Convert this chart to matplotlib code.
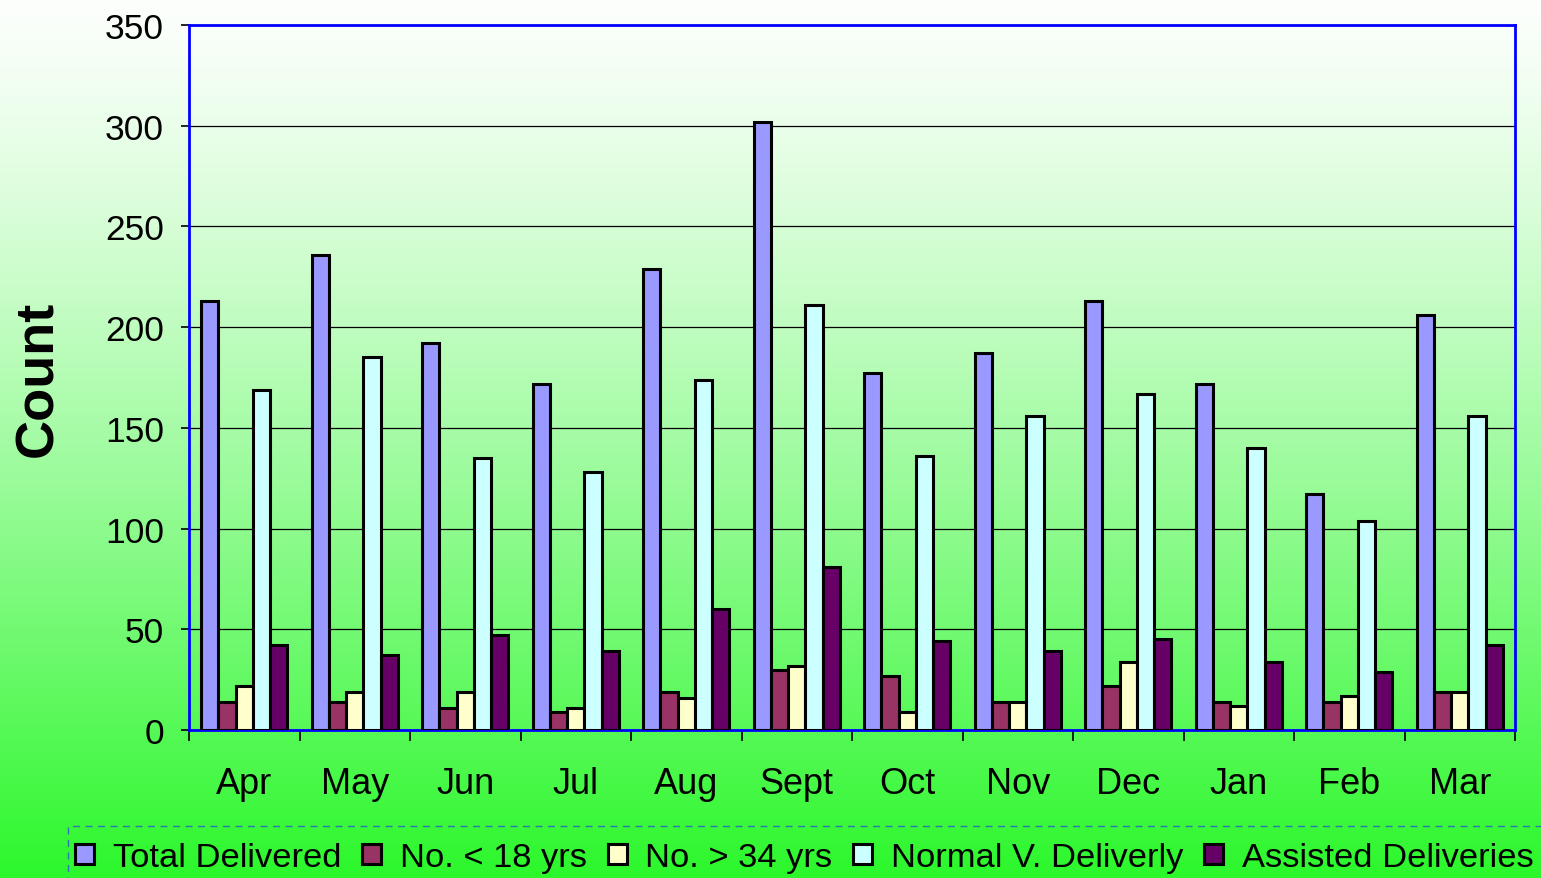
import numpy as np
from matplotlib import pyplot as plt
from matplotlib.patches import Rectangle

months = ["Apr", "May", "Jun", "Jul", "Aug", "Sept", "Oct", "Nov", "Dec", "Jan", "Feb", "Mar"]
total_delivered = [213, 236, 192, 172, 229, 302, 177, 187, 213, 172, 117, 206]
under_18 = [14, 14, 11, 9, 19, 30, 27, 14, 22, 14, 14, 19]
over_34 = [22, 19, 19, 11, 16, 32, 9, 14, 34, 12, 17, 19]
normal_delivery = [169, 185, 135, 128, 174, 211, 136, 156, 167, 140, 104, 156]
assisted = [42, 37, 47, 39, 60, 81, 44, 39, 45, 34, 29, 42]

series_names = ["Total Delivered", "No. < 18 yrs", "No. > 34 yrs", "Normal V. Deliverly", "Assisted Deliveries"]
series_colors = ["#9999ff", "#993366", "#ffffcc", "#ccffff", "#660066"]


def main():
    plt.rcParams['font.family'] = ['Liberation Sans', 'DejaVu Sans']

    fig = plt.figure(figsize=(15.41, 8.79), dpi=100)

    # background gradient, white at the top to green at the bottom
    bg = fig.add_axes([0, 0, 1, 1], zorder=-5)
    t = np.linspace(0, 1, 400) ** 1.25
    top = np.array([0.99, 1.0, 0.99])
    bottom = np.array([0.17, 0.97, 0.17])
    grad = top[None, :] * (1 - t[:, None]) + bottom[None, :] * t[:, None]
    bg.imshow(grad[:, None, :], aspect='auto', extent=[0, 1, 0, 1])
    bg.axis('off')

    ax = fig.add_axes([189 / 1541, 1 - 731 / 879, 1326 / 1541, 705 / 879])
    ax.set_facecolor('none')

    series = [total_delivered, under_18, over_34, normal_delivery, assisted]
    x = np.arange(len(months))
    w = 0.156
    handles = []
    for i, (vals, col) in enumerate(zip(series, series_colors)):
        b = ax.bar(x + (i - 2) * w, vals, width=w, color=col, edgecolor='black',
                   linewidth=2.2, zorder=3)
        handles.append(b)

    ax.set_xlim(-0.5, len(months) - 0.5)
    ax.set_ylim(0, 350)
    ax.set_yticks(range(0, 351, 50))
    ax.yaxis.grid(True, color='black', linewidth=0.9, zorder=0)
    ax.set_axisbelow(True)

    ax.set_xticks(np.arange(len(months) + 1) - 0.5)
    ax.set_xticklabels([])
    ax.set_xticks(x, minor=True)
    ax.set_xticklabels(months, minor=True, fontsize=26)
    ax.tick_params(axis='x', which='major', length=8, width=1.2, direction='out')
    ax.tick_params(axis='x', which='minor', length=0, pad=26)
    ax.tick_params(axis='y', labelsize=25.5, length=6, width=1.2, pad=12)

    for s in ax.spines.values():
        s.set_color('#0000ff')
        s.set_linewidth(2)

    ax.set_ylabel("Count", fontsize=39, fontweight='bold', labelpad=30)

    fig.legend(handles, series_names, loc='center', bbox_to_anchor=(0.522, 0.023),
               ncol=5, frameon=False, fontsize=24.8, handlelength=0.55, handleheight=0.55,
               handletextpad=0.55, columnspacing=0.6, borderpad=0)

    fig.patches.append(Rectangle((68 / 1541, -0.1), 1.0, 0.1 + 1 - 827 / 879,
                                 transform=fig.transFigure, fill=False,
                                 edgecolor='#2e75b6', linewidth=1,
                                 linestyle=(0, (5, 4))))

    plt.savefig('out.png', dpi=100)
    plt.close()


if __name__ == "__main__":
    main()
